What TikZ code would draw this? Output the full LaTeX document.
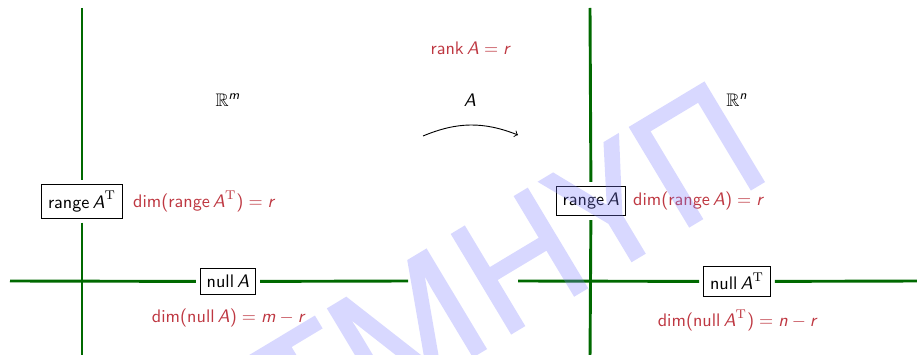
\documentclass[tikz,border=0pt]{standalone}
\usepackage{amsmath,amssymb}
\usepackage[no-math]{fontspec}
\newfontfamily\wmfont[FakeBold=2]{Open Sans}
\newcommand\sv[1]{\text{\sffamily\itshape #1}}
\newcommand\so[1]{\text{\sffamily #1}}
\newcommand\tr{^{\mathrm{T}}}
\definecolor{axisgreen}{RGB}{0,105,0}
\definecolor{alertred}{RGB}{190,55,65}
\definecolor{wmcol}{RGB}{127,127,255}
\tikzset{
  axis/.style={axisgreen, line width=1.6pt},
  spacebox/.style={draw=black, line width=0.4pt, fill=white, inner sep=3.5pt, outer sep=2.5pt},
  lbl/.style={text=alertred, inner sep=1pt},
  plain/.style={text=black, inner sep=1pt},
}
\begin{document}
\begin{tikzpicture}[x=0.55pt,y=-0.55pt]
\clip (0,0) rectangle (917,355);
% left space
\node[spacebox] (rAT) at (82,201.5) {$\so{range}\,\sv{A}\tr$};
\node[spacebox] (nA) at (228,281.5) {$\so{null}\,\sv{A}$};
\coordinate (lt) at (82,8);
\coordinate (lb) at (82,360);
\coordinate (ll) at (10,281);
\coordinate (lr) at (408,281);
\draw[axis] (lt) -- (rAT);
\draw[axis] (rAT) -- (lb);
\draw[axis] (ll) -- (nA);
\draw[axis] (nA) -- (lr);
\node[lbl, anchor=west] (dimrAT) at (131,201) {$\so{dim(range}\,\sv{A}\tr\so{)} = \sv{r}$};
\node[lbl] (dimnA) at (228,318) {$\so{dim(null}\,\sv{A}\so{)} = \sv{m} - \sv{r}$};
\node[plain] (Rm) at (228,100) {$\mathbb{R}^{\sv{m}}$};
% middle
\node[lbl] (rank) at (470,48) {$\so{rank}\,\sv{A} = \sv{r}$};
\node[plain] (Amap) at (470,100) {$\sv{A}$};
\coordinate (as) at (423,136);
\coordinate (ae) at (518,135);
\draw[->, line width=0.5pt] (as) to[bend left=22] (ae);
% right space
\node[spacebox] (rA) at (591,201) {$\so{range}\,\sv{A}$};
\node[spacebox] (nAT) at (737,281.5) {$\so{null}\,\sv{A}\tr$};
\coordinate (rt) at (590,8);
\coordinate (rb) at (590,360);
\coordinate (rl) at (518,281);
\coordinate (rr) at (920,281);
\draw[axis] (rt) -- (rA);
\draw[axis] (rA) -- (rb);
\draw[axis] (rl) -- (nAT);
\draw[axis] (nAT) -- (rr);
\node[lbl, anchor=west] (dimrA) at (631,201) {$\so{dim(range}\,\sv{A}\so{)} = \sv{r}$};
\node[lbl] (dimnAT) at (737,320) {$\so{dim(null}\,\sv{A}\tr\so{)} = \sv{n} - \sv{r}$};
\node[plain] (Rn) at (737,100) {$\mathbb{R}^{\sv{n}}$};
% watermark
\begin{scope}[transparency group, opacity=0.3]
\node[rotate=31, text=wmcol, inner sep=0pt] (wm) at (508,268)
  {\wmfont\fontsize{88}{88}\selectfont ΤΜΗΥΠ};
\end{scope}
\end{tikzpicture}
\end{document}
